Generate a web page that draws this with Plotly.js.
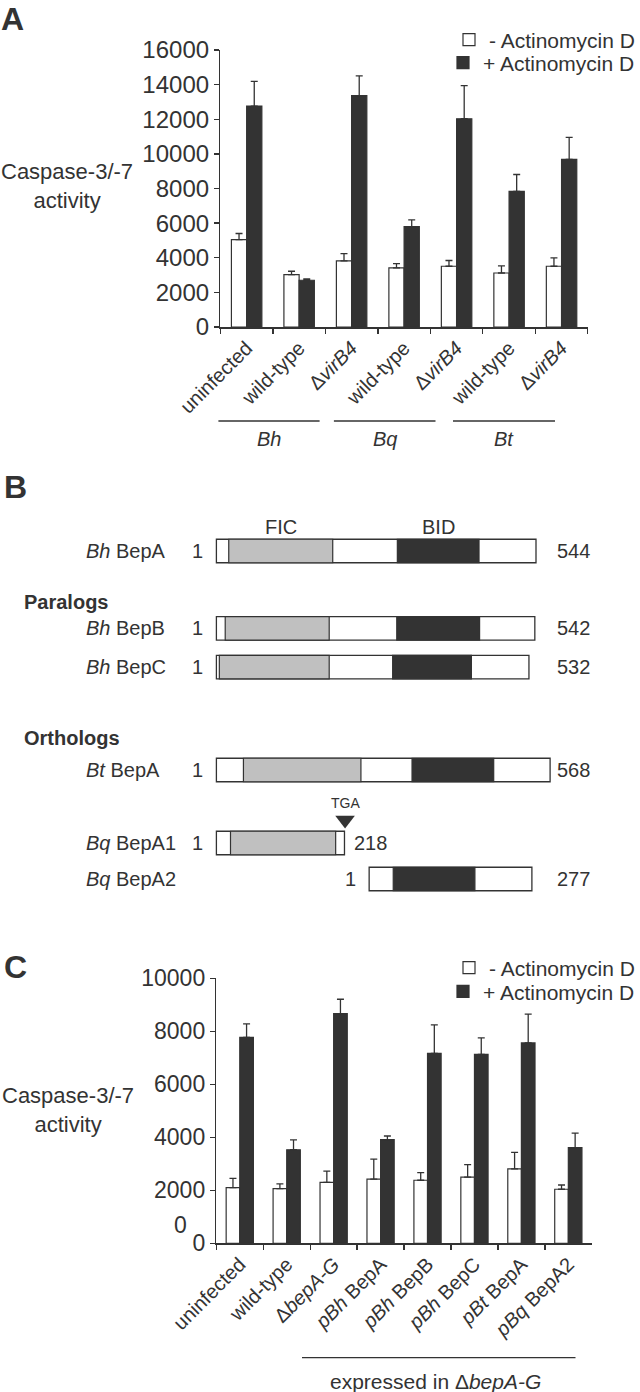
<!DOCTYPE html>
<html><head><meta charset="utf-8">
<script src="https://cdn.plot.ly/plotly-3.0.1.min.js"></script>
<style>html,body{margin:0;padding:0;background:#fff}#chart{width:640px;height:1392px}</style>
</head><body><div id="chart"></div>
<script>
// ================= DATA =================
// Panel A
const categoriesA = ['uninfected','Bh wild-type','Bh \u0394virB4','Bq wild-type','Bq \u0394virB4','Bt wild-type','Bt \u0394virB4'];
const tickLabelsA = ['uninfected','wild-type','\u0394<i>virB4</i>','wild-type','\u0394<i>virB4</i>','wild-type','\u0394<i>virB4</i>'];
const minusActA    = [5050, 3030, 3820, 3410, 3510, 3120, 3510];
const minusActErrA = [350, 190, 420, 250, 330, 410, 480];
const plusActA     = [12760, 2700, 13360, 5800, 12030, 7830, 9680];
const plusActErrA  = [1430, 80, 1140, 390, 1910, 980, 1270];
const speciesA = ['Bh','Bq','Bt'];

// Panel C
const categoriesC = ['uninfected','wild-type','\u0394bepA-G','pBh BepA','pBh BepB','pBh BepC','pBt BepA','pBq BepA2'];
const tickLabelsC = ['uninfected','wild-type','\u0394<i>bepA-G</i>','<i>pBh</i> BepA','<i>pBh</i> BepB','<i>pBh</i> BepC','<i>pBt</i> BepA','<i>pBq</i> BepA2'];
const minusActC    = [2100, 2060, 2300, 2420, 2380, 2500, 2810, 2040];
const minusActErrC = [350, 180, 420, 760, 290, 470, 620, 160];
const plusActC     = [7770, 3530, 8670, 3910, 7170, 7130, 7560, 3610];
const plusActErrC  = [510, 370, 540, 140, 1070, 620, 1090, 550];

const seriesNames = ['- Actinomycin D', '+ Actinomycin D'];

// Panel B (domain architecture, residue numbers)
const proteins      = ['Bh BepA','Bh BepB','Bh BepC','Bt BepA','Bq BepA1','Bq BepA2'];
const proteinLabels = ['<i>Bh</i> BepA','<i>Bh</i> BepB','<i>Bh</i> BepC','<i>Bt</i> BepA','<i>Bq</i> BepA1','<i>Bq</i> BepA2'];
const proteinLength = [544, 542, 532, 568, 218, 277];
const alignOffset   = [0, 0, 0, 0, 0, 260];
const ficStart = [21, 15, 5, 46, 24, null];
const ficEnd   = [198, 192, 192, 246, 203, null];
const bidStart = [308, 307, 300, 333, null, 41];
const bidEnd   = [447, 448, 434, 472, null, 180];
const tgaPos = 219;       // stop codon of Bq BepA1
const domainNames = ['FIC','BID'];

// ================= LAYOUT HELPERS =================
const W = 640, H = 1392;
const fx = p => p / W;
const fy = p => 1 - p / H;
const FONT = 'Liberation Sans, Arial, Helvetica, sans-serif';
const INK = '#333333';
const GREY = '#c0c0c0';

const traces = [];
function addBarPair(cats, mins, minsErr, plus, plusErr, xa, ya, legA, legB) {
  traces.push({type:'bar', x:cats, y:mins, xaxis:xa, yaxis:ya, name:seriesNames[0], legend:legA,
    marker:{color:'#ffffff', line:{color:INK, width:1.2}},
    error_y:{type:'data', symmetric:false, array:minsErr, arrayminus:minsErr.map(()=>0), color:INK, thickness:1.3, width:3.5},
    hoverinfo:'skip'});
  traces.push({type:'bar', x:cats, y:plus, xaxis:xa, yaxis:ya, name:seriesNames[1], legend:legB,
    marker:{color:INK, line:{color:INK, width:1.2}},
    error_y:{type:'data', symmetric:false, array:plusErr, arrayminus:plusErr.map(()=>0), color:INK, thickness:1.3, width:3.5},
    hoverinfo:'skip'});
}
addBarPair(categoriesA, minusActA, minusActErrA, plusActA, plusActErrA, 'x', 'y', 'legend', 'legend2');
addBarPair(categoriesC, minusActC, minusActErrC, plusActC, plusActErrC, 'x2', 'y2', 'legend3', 'legend4');

// Panel B row groups (layout bands in px)
const rowGroups = [
  {rows:[0],   top:532, bottom:570, axis:'y3'},
  {rows:[1,2], top:609, bottom:686.4, axis:'y4'},
  {rows:[3],   top:751, bottom:789, axis:'y5'},
  {rows:[4,5], top:825, bottom:897, axis:'y6'}
];
const boxH = 23.5;
const pxPerAA = 0.5875, x0px = 216.4;
const annotations = [];
const shapes = [];
const txt = (text, x, y, opts={}) => Object.assign({text, x, y, xref:'paper', yref:'paper', showarrow:false,
  xanchor:'center', yanchor:'middle', font:{family:FONT, size:20, color:INK}}, opts);

const layout = {
  width:W, height:H, margin:{l:0,r:0,t:0,b:0}, autosize:false,
  paper_bgcolor:'#fff', plot_bgcolor:'rgba(0,0,0,0)',
  barmode:'group', bargap:0.42, bargroupgap:0,
  font:{family:FONT, color:INK},
  showlegend:true
};

rowGroups.forEach((g, gi) => {
  const n = g.rows.length;
  const spacing = (g.bottom - g.top) / n;
  const w = boxH / spacing;
  const names = g.rows.map(i => proteins[i]);
  const key = 'yaxis' + g.axis.slice(1);
  layout[key] = {domain:[fy(g.bottom), fy(g.top)], type:'category', categoryarray:names, categoryorder:'array',
    range:[n - 0.5, -0.5], visible:false, anchor:'x3', fixedrange:true};
  const common = {type:'bar', orientation:'h', xaxis:'x3', yaxis:g.axis, width:w, offset:-w/2, showlegend:false, hoverinfo:'skip'};
  traces.push(Object.assign({}, common, {y:names, x:g.rows.map(i=>proteinLength[i]), base:g.rows.map(i=>alignOffset[i]),
    marker:{color:'#ffffff', line:{color:INK, width:1.3}}}));
  const fr = g.rows.filter(i => ficStart[i] !== null);
  if (fr.length) traces.push(Object.assign({}, common, {y:fr.map(i=>proteins[i]), x:fr.map(i=>ficEnd[i]-ficStart[i]),
    base:fr.map(i=>alignOffset[i]+ficStart[i]), marker:{color:GREY, line:{color:INK, width:1.2}}}));
  const br = g.rows.filter(i => bidStart[i] !== null);
  if (br.length) traces.push(Object.assign({}, common, {y:br.map(i=>proteins[i]), x:br.map(i=>bidEnd[i]-bidStart[i]),
    base:br.map(i=>alignOffset[i]+bidStart[i]), marker:{color:INK, line:{color:INK, width:1.2}}}));
  g.rows.forEach((i, k) => {
    annotations.push(Object.assign(txt(proteinLabels[i], fx(84), k, {xanchor:'left'}), {yref:g.axis}));
    annotations.push(Object.assign(txt('1', alignOffset[i], k, {xanchor:'right', xshift:-11}), {xref:'x3', yref:g.axis}));
    const endPx = x0px + (alignOffset[i] + proteinLength[i]) * pxPerAA;
    if (endPx < 450) {
      annotations.push(Object.assign(txt(String(proteinLength[i]), alignOffset[i] + proteinLength[i], k, {xanchor:'left', xshift:8}), {xref:'x3', yref:g.axis}));
    } else {
      annotations.push(Object.assign(txt(String(proteinLength[i]), fx(555), k, {xanchor:'left'}), {yref:g.axis}));
    }
  });
});
layout.xaxis3 = {domain:[0,1], range:[-x0px/pxPerAA, (W - x0px)/pxPerAA], visible:false, anchor:'y3', fixedrange:true};
layout.yaxis7 = {domain:[fy(830), fy(810)], type:'category', range:[-0.5,0.5], visible:false, anchor:'x3', fixedrange:true};
traces.push({type:'scatter', mode:'markers', x:[tgaPos], y:['TGA'], xaxis:'x3', yaxis:'y7', showlegend:false, hoverinfo:'skip',
  marker:{symbol:'triangle-down', size:17, color:INK}});
annotations.push(Object.assign(txt('TGA', tgaPos, 0, {yshift:17, font:{family:FONT, size:14, color:INK}}), {xref:'x3', yref:'y7'}));

annotations.push(Object.assign(txt(domainNames[0], (ficStart[0]+ficEnd[0])/2, 0, {yshift:24}), {xref:'x3', yref:'y3'}));
annotations.push(Object.assign(txt(domainNames[1], (bidStart[0]+bidEnd[0])/2, 0, {yshift:24}), {xref:'x3', yref:'y3'}));
annotations.push(txt('<b>Paralogs</b>', fx(22), fy(602), {xanchor:'left'}));
annotations.push(txt('<b>Orthologs</b>', fx(22), fy(738), {xanchor:'left'}));

// Panel labels
const bigFont = {family:FONT, size:32, color:INK};
annotations.push(txt('<b>A</b>', fx(0), 1, {xanchor:'left', yanchor:'top', borderpad:0, font:bigFont}));
annotations.push(txt('<b>B</b>', fx(2), fy(487), {xanchor:'left', font:bigFont}));
annotations.push(txt('<b>C</b>', fx(2), fy(967), {xanchor:'left', font:bigFont}));

// y titles
annotations.push(txt('Caspase-3/-7<br>activity', fx(67), fy(186), {font:{family:FONT, size:22, color:INK}}));
annotations.push(txt('Caspase-3/-7<br>activity', fx(68), fy(1110), {font:{family:FONT, size:22, color:INK}}));
// stray "0" label in panel C
annotations.push(txt('0', fx(180), fy(1225), {font:{family:FONT, size:23, color:INK}}));

// Panel A species brackets
const brA = [[218.4, 319.6], [333.9, 435.5], [453, 555]];
speciesA.forEach((s, i) => {
  shapes.push({type:'line', xref:'paper', yref:'paper', x0:fx(brA[i][0]), x1:fx(brA[i][1]), y0:fy(421), y1:fy(421), line:{color:INK, width:1.3}});
  annotations.push(txt('<i>' + s + '</i>', fx((brA[i][0]+brA[i][1])/2), fy(439)));
});
// Panel C bracket
shapes.push({type:'line', xref:'paper', yref:'paper', x0:fx(302), x1:fx(575.5), y0:fy(1357.7), y1:fy(1357.7), line:{color:INK, width:1.3}});
annotations.push(txt('expressed in \u0394<i>bepA-G</i>', fx(435), fy(1381), {font:{family:FONT, size:21, color:INK}}));

// Axes A & C
const xBase = {type:'category', tickson:'boundaries', ticks:'outside', ticklen:5, tickwidth:1.3, tickcolor:INK,
  showline:true, linecolor:INK, linewidth:1.5, tickangle:-45, tickfont:{family:FONT, size:20, color:INK},
  showgrid:false, fixedrange:true, categoryorder:'array'};
const yBase = {ticks:'outside', ticklen:5, tickwidth:1.3, tickcolor:INK, showline:true, linecolor:INK, linewidth:1.5,
  showgrid:false, zeroline:false, tickformat:'d', fixedrange:true};
layout.xaxis = Object.assign({}, xBase, {domain:[fx(220.4), fx(587.8)], anchor:'y', categoryarray:categoriesA,
  tickmode:'array', tickvals:categoriesA, ticktext:tickLabelsA, range:[-0.5, categoriesA.length-0.5]});
layout.yaxis = Object.assign({}, yBase, {domain:[fy(327), fy(50)], anchor:'x', range:[0,16000], dtick:2000,
  tickfont:{family:FONT, size:24, color:INK}});
layout.xaxis2 = Object.assign({}, xBase, {domain:[fx(216.3), fx(591.8)], anchor:'y2', categoryarray:categoriesC,
  tickmode:'array', tickvals:categoriesC, ticktext:tickLabelsC, range:[-0.5, categoriesC.length-0.5]});
layout.yaxis2 = Object.assign({}, yBase, {domain:[fy(1243.3), fy(978.3)], anchor:'x2', range:[0,10000], dtick:2000,
  tickfont:{family:FONT, size:23, color:INK}});

// Legends (right-aligned to page edge)
const legBase = {xanchor:'right', yanchor:'middle', bgcolor:'rgba(0,0,0,0)', borderwidth:0,
  font:{family:FONT, size:21, color:INK}, itemwidth:30, itemclick:false, itemdoubleclick:false};
layout.legend  = Object.assign({}, legBase, {x:1, y:fy(40)});
layout.legend2 = Object.assign({}, legBase, {x:1, y:fy(63)});
layout.legend3 = Object.assign({}, legBase, {x:1, y:fy(968)});
layout.legend4 = Object.assign({}, legBase, {x:1, y:fy(991.7)});

layout.annotations = annotations;
layout.shapes = shapes;

Plotly.newPlot('chart', traces, layout, {displayModeBar:false, staticPlot:true});
</script>
</body></html>
